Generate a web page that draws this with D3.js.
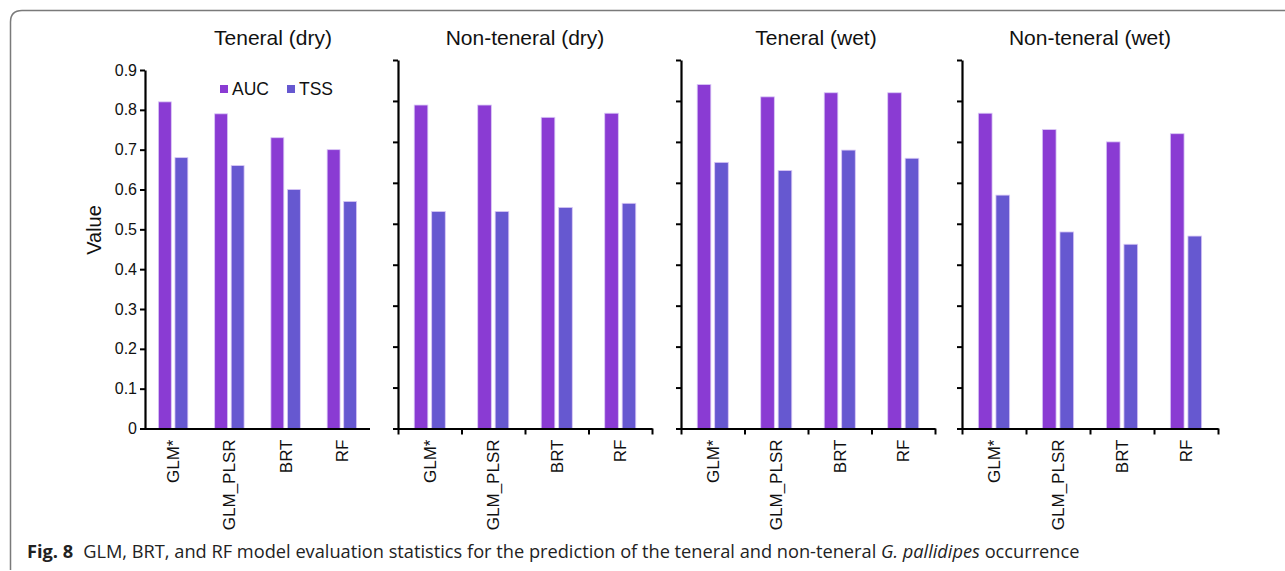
<!DOCTYPE html>
<html>
<head>
<meta charset="utf-8">
<script src="https://cdn.jsdelivr.net/npm/d3@7"></script>
<style>
  body { margin: 0; background: #fff; }
  svg { display: block; }
</style>
</head>
<body>
<div id="vis"></div>
<script>
const width = 1285;
const height = 571;

// Data
const models = ["GLM*", "GLM_PLSR", "BRT", "RF"];
const series = ["AUC", "TSS"];
const panelTitles = ["Teneral (dry)", "Non-teneral (dry)", "Teneral (wet)", "Non-teneral (wet)"];
const aucValues = [
  [0.82, 0.79, 0.73, 0.70],
  [0.79, 0.79, 0.76, 0.77],
  [0.84, 0.81, 0.82, 0.82],
  [0.77, 0.73, 0.70, 0.72]
];
const tssValues = [
  [0.68, 0.66, 0.60, 0.57],
  [0.53, 0.53, 0.54, 0.55],
  [0.65, 0.63, 0.68, 0.66],
  [0.57, 0.48, 0.45, 0.47]
];
const yTicks = [0, 0.1, 0.2, 0.3, 0.4, 0.5, 0.6, 0.7, 0.8, 0.9];

// Layout of the four panels (pixels)
const panels = [
  { left: 145, right: 370, top: 70, bottom: 428.5, titleX: 273, labels: true, xTicks: false, outer: 0.81 },
  { left: 398, right: 652, top: 60, bottom: 428.5, titleX: 525, labels: false, xTicks: true, outer: 0.93 },
  { left: 681, right: 935, top: 60, bottom: 428.5, titleX: 816, labels: false, xTicks: true, outer: 0.93 },
  { left: 962, right: 1218, top: 60, bottom: 428.5, titleX: 1090, labels: false, xTicks: true, outer: 0.93 }
];

const colorScale = d3.scaleOrdinal().domain(series).range(["#8a3bd3", "#6658d0"]);
const font = "'Liberation Sans', Arial, sans-serif";

const svg = d3.select("#vis").append("svg")
  .attr("width", width)
  .attr("height", height);

// Rounded frame (open at the bottom and right)
svg.append("path")
  .attr("d", "M10.5,570 L10.5,22 Q10.5,10.5 22,10.5 L1285,10.5")
  .attr("fill", "none")
  .attr("stroke", "#7a7a7a")
  .attr("stroke-width", 1.5);

panels.forEach((p, i) => {
  const g = svg.append("g");
  const rows = models.map((m, j) => ({ model: m, AUC: aucValues[i][j], TSS: tssValues[i][j] }));

  const x0 = d3.scaleBand().domain(models).range([p.left, p.right]).padding(0);
  const x1 = d3.scaleBand().domain(series).range([0, x0.bandwidth()])
    .paddingInner(0.22).paddingOuter(p.outer);
  const y = d3.scaleLinear().domain([0, 0.9]).range([p.bottom, p.top]);

  // Bars
  g.selectAll("g.cat")
    .data(rows)
    .join("g")
    .attr("class", "cat")
    .attr("transform", d => `translate(${x0(d.model)},0)`)
    .selectAll("rect")
    .data(d => series.map(s => ({ key: s, value: d[s] })))
    .join("rect")
    .attr("x", d => x1(d.key))
    .attr("y", d => y(d.value))
    .attr("width", x1.bandwidth())
    .attr("height", d => y(0) - y(d.value))
    .attr("fill", d => colorScale(d.key))
    .attr("stroke", "#d9c8f6")
    .attr("stroke-width", 0.8);

  // Y axis
  const yAxis = g.append("g")
    .attr("transform", `translate(${p.left},0)`)
    .call(d3.axisLeft(y).tickValues(yTicks).tickSize(5).tickSizeOuter(0)
      .tickFormat(p.labels ? d3.format("~g") : ""));
  yAxis.select(".domain").attr("stroke-width", 2.2);
  yAxis.selectAll(".tick line").attr("stroke-width", 2);
  yAxis.selectAll("text")
    .attr("font-family", font)
    .attr("font-size", 16)
    .attr("fill", "#111")
    .attr("x", -8);

  // X axis (boundary ticks)
  const xb = d3.scaleLinear().domain([0, models.length]).range([p.left, p.right]);
  const xAxis = g.append("g")
    .attr("transform", `translate(0,${p.bottom})`)
    .call(d3.axisBottom(xb).ticks(models.length).tickSize(p.xTicks ? 6 : 0)
      .tickSizeOuter(0).tickFormat(""));
  xAxis.select(".domain").attr("stroke-width", 2.2);
  xAxis.selectAll(".tick line").attr("stroke-width", 2);
  if (!p.xTicks) {
    xAxis.select(".domain").attr("d", `M${p.left - 5},0.5H${p.right}`);
  }

  // Category labels
  g.selectAll("text.cat-label")
    .data(models)
    .join("text")
    .attr("class", "cat-label")
    .attr("transform", d => `translate(${x0(d) + x0.bandwidth() / 2 + 6},${p.bottom + 11}) rotate(-90)`)
    .attr("text-anchor", "end")
    .attr("font-family", font)
    .attr("font-size", 17)
    .attr("fill", "#111")
    .text(d => d);

  // Panel title
  g.append("text")
    .attr("x", p.titleX)
    .attr("y", 45)
    .attr("text-anchor", "middle")
    .attr("font-family", font)
    .attr("font-size", 21)
    .attr("fill", "#111")
    .text(panelTitles[i]);
});

// Y label
svg.append("text")
  .attr("transform", "translate(101,230) rotate(-90)")
  .attr("text-anchor", "middle")
  .attr("font-family", font)
  .attr("font-size", 20)
  .attr("fill", "#111")
  .text("Value");

// Legend
const legend = svg.append("g").attr("transform", "translate(220,84)");
const legendX = [0, 67];
series.forEach((s, k) => {
  legend.append("rect")
    .attr("x", legendX[k])
    .attr("y", 1)
    .attr("width", 8)
    .attr("height", 8)
    .attr("fill", colorScale(s));
  legend.append("text")
    .attr("x", legendX[k] + 12)
    .attr("y", 11)
    .attr("font-family", font)
    .attr("font-size", 17.5)
    .attr("fill", "#111")
    .text(s);
});

// Caption
const cap = svg.append("text")
  .attr("x", 27)
  .attr("y", 558)
  .attr("font-family", "'Open Sans', 'Noto Sans', sans-serif")
  .attr("font-size", 17.5)
  .attr("fill", "#222");
cap.append("tspan").attr("font-weight", "bold").text("Fig. 8");
cap.append("tspan").attr("dx", 10).text("GLM, BRT, and RF model evaluation statistics for the prediction of the teneral and non-teneral ");
cap.append("tspan").attr("font-style", "italic").text("G. pallidipes");
cap.append("tspan").text(" occurrence");
// fit the caption to the width it has in the figure
const capW = cap.node().getComputedTextLength();
cap.attr("font-size", 17.5 * 1043 / capW);
</script>
</body>
</html>
